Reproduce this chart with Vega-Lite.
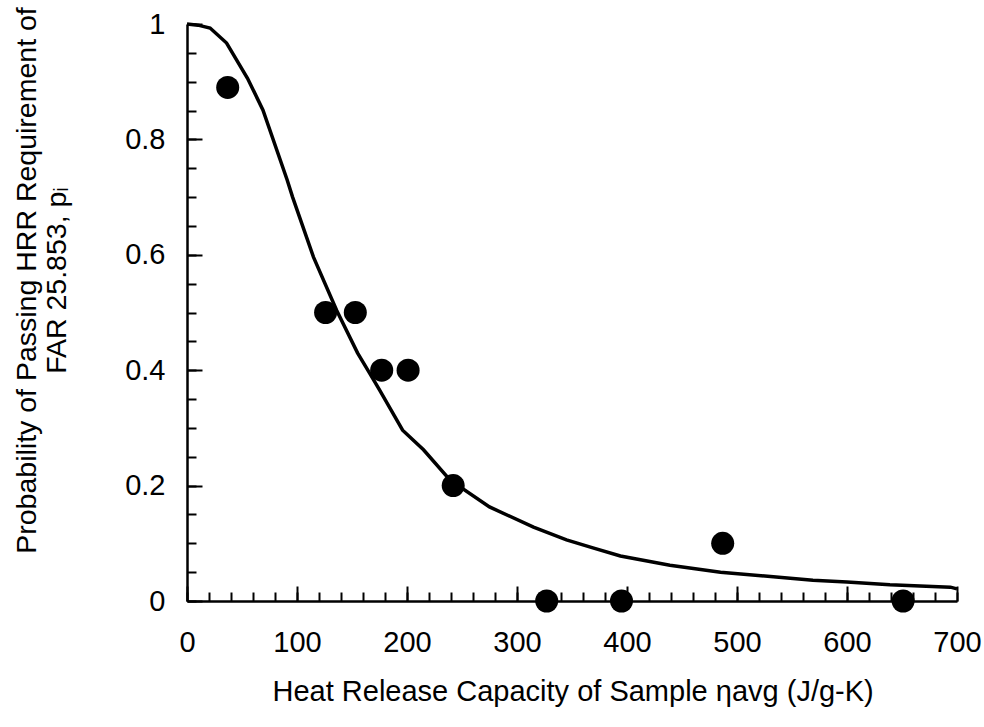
{
  "$schema": "https://vega.github.io/schema/vega-lite/v6.json",
  "width": 770,
  "height": 577,
  "autosize": "none",
  "padding": {"left": 187, "top": 24, "right": 27, "bottom": 126},
  "background": "white",
  "config": {"view": {"stroke": null}, "font": "Liberation Sans"},
  "datasets": {
    "curve": [
      {"x": 0, "p": 1.0}, {"x": 10, "p": 0.998}, {"x": 21, "p": 0.993}, {"x": 36, "p": 0.967},
      {"x": 55, "p": 0.906}, {"x": 69, "p": 0.851}, {"x": 91, "p": 0.73}, {"x": 96, "p": 0.70},
      {"x": 115, "p": 0.596}, {"x": 136, "p": 0.504}, {"x": 155, "p": 0.43}, {"x": 166, "p": 0.395},
      {"x": 175, "p": 0.366}, {"x": 196, "p": 0.296}, {"x": 215, "p": 0.262}, {"x": 239, "p": 0.21},
      {"x": 275, "p": 0.163}, {"x": 315, "p": 0.128}, {"x": 345, "p": 0.106}, {"x": 369, "p": 0.092},
      {"x": 394, "p": 0.078}, {"x": 439, "p": 0.062}, {"x": 485, "p": 0.05}, {"x": 533, "p": 0.042},
      {"x": 569, "p": 0.036}, {"x": 600, "p": 0.033}, {"x": 639, "p": 0.028}, {"x": 694, "p": 0.024},
      {"x": 700, "p": 0.021}
    ],
    "points": [
      {"x": 37, "p": 0.89}, {"x": 126, "p": 0.5}, {"x": 153, "p": 0.5}, {"x": 177, "p": 0.4},
      {"x": 201, "p": 0.4}, {"x": 242, "p": 0.2}, {"x": 327, "p": 0}, {"x": 395, "p": 0},
      {"x": 487, "p": 0.1}, {"x": 651, "p": 0}
    ]
  },
  "resolve": {"axis": {"x": "independent", "y": "independent"}},
  "layer": [
    {
      "data": {"name": "curve"},
      "mark": {"type": "line", "color": "black", "strokeWidth": 3.5},
      "encoding": {
        "x": {
          "field": "x", "type": "quantitative",
          "scale": {"domain": [0, 700], "nice": false},
          "axis": {
            "orient": "bottom",
            "values": [0,100,200,300,400,500,600,700],
            "tickSize": -15,
            "grid": false,
            "domainColor": "black", "domainWidth": 2.5,
            "tickColor": "black", "tickWidth": 2,
            "labelFontSize": 29, "labelColor": "black", "labelPadding": 42,
            "labelFlush": false, "labelOverlap": false, "labelBound": false,
            "title": "Heat Release Capacity of Sample ηavg (J/g-K)",
            "titleFontSize": 29, "titleFontWeight": "normal", "titleColor": "black",
            "titleAlign": "left", "titleX": 85, "titleBaseline": "alphabetic", "titleY": 99
          }
        },
        "y": {
          "field": "p", "type": "quantitative",
          "scale": {"domain": [0, 1], "nice": false},
          "axis": {
            "orient": "left",
            "values": [0,0.2,0.4,0.6,0.8,1],
            "format": ".1~f",
            "tickSize": -15,
            "grid": false,
            "domainColor": "black", "domainWidth": 2.5,
            "tickColor": "black", "tickWidth": 2,
            "labelFontSize": 29, "labelColor": "black", "labelPadding": 37,
            "labelFlush": false, "labelOverlap": false, "labelBound": false,
            "title": ["Probability of Passing HRR Requirement of", "FAR 25.853, pᵢ"],
            "titleFontSize": 28.5, "titleFontWeight": "normal", "titleColor": "black",
            "titleLineHeight": 30,
            "titleY": 256, "titlePadding": 53
          }
        }
      }
    },
    {
      "data": {"name": "points"},
      "mark": {"type": "circle", "color": "black", "opacity": 1, "size": 530},
      "encoding": {
        "x": {
          "field": "x", "type": "quantitative",
          "axis": {
            "orient": "bottom",
            "values": [0,20,40,60,80,100,120,140,160,180,200,220,240,260,280,300,320,340,360,380,400,420,440,460,480,500,520,540,560,580,600,620,640,660,680,700],
            "tickSize": -9, "tickColor": "black", "tickWidth": 2,
            "labels": false, "domain": false, "grid": false, "title": null
          }
        },
        "y": {
          "field": "p", "type": "quantitative",
          "axis": {
            "orient": "left",
            "values": [0,0.05,0.1,0.15,0.2,0.25,0.3,0.35,0.4,0.45,0.5,0.55,0.6,0.65,0.7,0.75,0.8,0.85,0.9,0.95,1],
            "tickSize": -9, "tickColor": "black", "tickWidth": 2,
            "labels": false, "domain": false, "grid": false, "title": null
          }
        }
      }
    }
  ]
}
